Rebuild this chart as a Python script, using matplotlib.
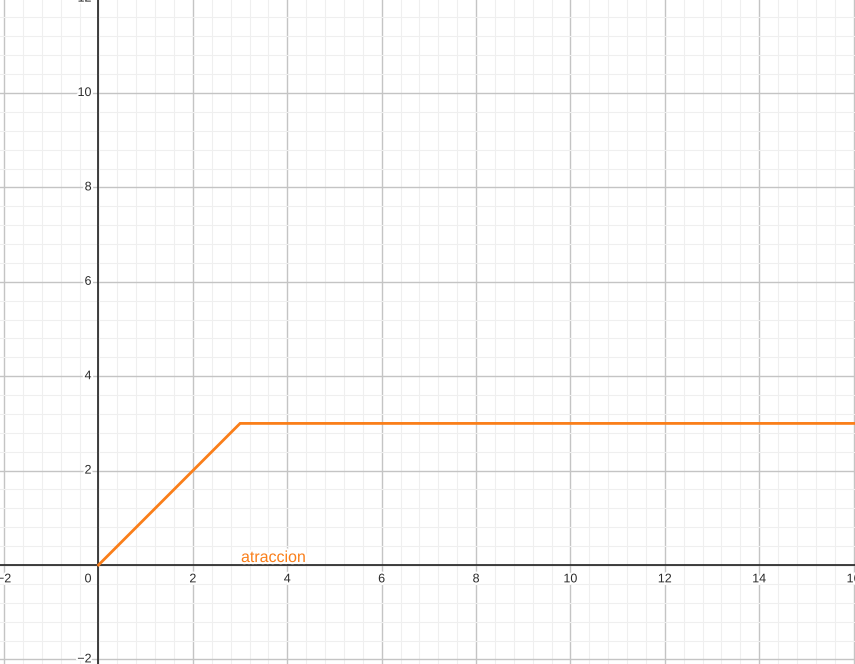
import numpy as np
import matplotlib.pyplot as plt
import matplotlib.patheffects as pe
from matplotlib.transforms import offset_copy

plt.rcParams['font.family'] = ['Liberation Sans', 'DejaVu Sans']

# data
curve_x = [0, 3, 17]
curve_y = [0, 3, 3]
curve_label = 'atraccion'
x_ticks = [-2, 2, 4, 6, 8, 10, 12, 14, 16]
y_ticks = [-2, 2, 4, 6, 8, 10, 12]

orange = '#fa7e19'

fig = plt.figure(figsize=(8.55, 6.64), dpi=100)
ax = fig.add_axes([0, 0, 1, 1])
for s in ax.spines.values():
    s.set_visible(False)

ax.set_xticks(np.arange(-2, 17, 2))
ax.set_yticks(np.arange(-2, 13, 2))
ax.set_xticks(np.arange(-2.4, 16.5, 0.4), minor=True)
ax.set_yticks(np.arange(-2.4, 12.5, 0.4), minor=True)
ax.grid(which='major', color='#c4c4c4', linewidth=1.0)
ax.grid(which='minor', color='#efefef', linewidth=0.8)
ax.tick_params(which='both', length=0, labelbottom=False, labelleft=False)
ax.set_axisbelow(True)

ax.axhline(0, color='#222222', linewidth=1.2, zorder=2)
ax.axvline(0, color='#222222', linewidth=1.2, zorder=2)

halo = [pe.withStroke(linewidth=3, foreground='white')]
lab_kw = dict(fontsize=9, color='#2b2b2b', path_effects=halo, zorder=3)

ax.plot(curve_x, curve_y, color=orange, linewidth=2.0, zorder=4,
        solid_joinstyle='miter')

# limits last, so the ticks and the curve do not widen them
ax.set_xlim(-2.087, 16.03)
ax.set_ylim(-2.097, 11.97)

tr_x = offset_copy(ax.transData, fig=fig, x=0, y=-6, units='points')
for v in x_ticks:
    ax.text(v, 0, str(v).replace('-', '\u2212'), transform=tr_x,
            ha='center', va='top', **lab_kw)
tr_0 = offset_copy(ax.transData, fig=fig, x=-5, y=-6, units='points')
ax.text(0, 0, '0', transform=tr_0, ha='right', va='top', **lab_kw)

tr_y = offset_copy(ax.transData, fig=fig, x=-5, y=0, units='points')
for v in y_ticks:
    ax.text(0, v, str(v).replace('-', '\u2212'), transform=tr_y,
            ha='right', va='center', **lab_kw)

ax.text(3.02, 0.0, curve_label, color=orange, fontsize=11.5,
        ha='left', va='bottom', zorder=5,
        path_effects=[pe.withStroke(linewidth=3, foreground='white')])

fig.savefig('out.png', dpi=100)
